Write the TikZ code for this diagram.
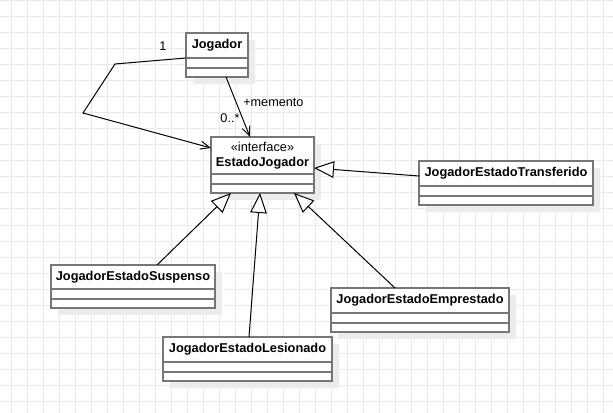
\documentclass[tikz,border=0pt]{standalone}
\usepackage{fontspec}
\setmainfont{Liberation Sans}
\usetikzlibrary{arrows.meta, positioning, calc}
\definecolor{umlGray}{RGB}{118,118,118}
\definecolor{umlShadow}{RGB}{236,236,236}
\definecolor{umlGrid}{RGB}{234,234,234}

% class box: name, x, y, width, title height, title
\newcommand{\umlclass}[6]{%
  \fill[umlShadow] (#2+7,#3+7) rectangle ++(#4,#5+19);
  \node[classbox, minimum width=#4*0.75pt, minimum height=(#5+19)*0.75pt, anchor=north west] (#1) at (#2,#3) {};
  \node[classtitle] (#1 title) at ($(#1.north)+(0,#5/2)$) {#6};
  \draw[classline] ($(#1.north west)+(0,#5)$) -- ($(#1.north east)+(0,#5)$);
  \draw[classline] ($(#1.north west)+(0,#5+10)$) -- ($(#1.north east)+(0,#5+10)$);
}

\tikzset{
  classbox/.style={draw=umlGray, fill=white, line width=1.5pt, inner sep=0pt, outer sep=0pt},
  classtitle/.style={font=\fontsize{9.6}{11.25}\selectfont\bfseries, align=center, inner sep=0pt},
  classline/.style={draw=umlGray, line width=1.5pt},
  umllabel/.style={font=\fontsize{9.5}{11}\selectfont, inner sep=0pt},
  assoc/.style={draw=black, line width=0.75pt, -{Straight Barb[length=7pt, width=6pt]}},
  generalize/.style={draw=black, line width=0.75pt, -{Triangle[open, length=15pt, width=12.5pt, fill=white]}}
}

\begin{document}
\begin{tikzpicture}[x=0.75pt, y=-0.75pt]
    \useasboundingbox (0,0) rectangle (613,413);
    \fill[white] (0,0) rectangle (613,413);

    % Grid
    \foreach \x in {11,27,...,603} {
      \draw[umlGrid, line width=0.75pt] (\x,0) -- (\x,413);
    }
    \foreach \y in {1,17,...,412} {
      \draw[umlGrid, line width=0.75pt] (0,\y) -- (613,\y);
    }

    % Classes
    \umlclass{jogador}{186}{33}{62}{25}{Jogador}
    \umlclass{estado}{211}{137}{103}{37}{{\mdseries\guillemotleft interface\guillemotright}\\EstadoJogador}
    \umlclass{transferido}{419}{161}{174}{25}{JogadorEstadoTransferido}
    \umlclass{suspenso}{51}{265}{164}{24}{JogadorEstadoSuspenso}
    \umlclass{emprestado}{331}{288}{178}{25}{JogadorEstadoEmprestado}
    \umlclass{lesionado}{163}{337}{169}{25}{JogadorEstadoLesionado}

    % Associations
    \coordinate (bend a) at (115,64);
    \coordinate (bend b) at (83,113);
    \draw[assoc] ($(jogador.north west)+(0,25)$) -- (bend a) -- (bend b) -- ($(estado.north west)+(0,11)$);
    \node[umllabel] (mult one) at (163,46) {1};

    \draw[assoc] ($(jogador.south west)+(40,0)$) -- ($(estado.north west)+(39,0)$);
    \node[umllabel, anchor=west] (role memento) at (243,102) {+memento};
    \node[umllabel] (mult many) at (230,118) {0..*};

    % Generalizations
    \draw[generalize] ($(suspenso.north west)+(106,0)$) -- ($(estado.south west)+(20,0)$);
    \draw[generalize] ($(lesionado.north west)+(86,0)$) -- ($(estado.south west)+(49,0)$);
    \draw[generalize] ($(emprestado.north west)+(64,0)$) -- ($(estado.south west)+(83,0)$);
    \draw[generalize] ($(transferido.north west)+(0,15)$) -- ($(estado.north east)+(0,31)$);
  \end{tikzpicture}
\end{document}
